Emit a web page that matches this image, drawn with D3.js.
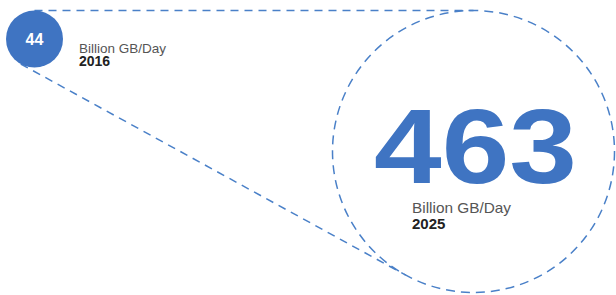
<!DOCTYPE html>
<html><head><meta charset="utf-8">
<script src="https://cdn.jsdelivr.net/npm/d3@7"></script>
<style>html,body{margin:0;padding:0;background:#fff;}svg{display:block;}</style>
</head><body>
<script>
const years = ["2016", "2025"];
const values = [44, 463];
const unitLabels = ["Billion GB/Day", "Billion GB/Day"];

const W = 616, H = 295;
const svg = d3.select("body").append("svg").attr("width", W).attr("height", H);

const rScale = d3.scaleLinear().domain([44, 463]).range([28.5, 141]);
const xScale = d3.scaleLinear().domain([44, 463]).range([34.5, 473.5]);
const yScale = d3.scaleLinear().domain([44, 463]).range([39, 151.5]);

const c = values.map(v => ({x: xScale(v), y: yScale(v), r: rScale(v)}));
const blue = "#3f74c2";
const dash = "#4a80c8";

// external tangent lines
const dx = c[1].x - c[0].x, dy = c[1].y - c[0].y;
const d = Math.hypot(dx, dy);
const phi = Math.atan2(dy, dx);
const beta = Math.acos(-(c[1].r - c[0].r) / d);
[phi + beta, phi - beta].forEach(a => {
  const n = [Math.cos(a), Math.sin(a)];
  svg.append("line")
    .attr("x1", c[0].x + c[0].r * n[0]).attr("y1", c[0].y + c[0].r * n[1])
    .attr("x2", c[1].x + c[1].r * n[0]).attr("y2", c[1].y + c[1].r * n[1])
    .attr("stroke", dash).attr("stroke-width", 1.5).attr("stroke-dasharray", "8,6");
});

// big dashed circle
svg.append("circle").attr("cx", c[1].x).attr("cy", c[1].y).attr("r", c[1].r)
  .attr("fill", "none").attr("stroke", dash).attr("stroke-width", 1.5).attr("stroke-dasharray", "9,6");

// small filled circle
svg.append("circle").attr("cx", c[0].x).attr("cy", c[0].y).attr("r", c[0].r).attr("fill", blue);
svg.append("text").attr("x", c[0].x).attr("y", c[0].y + 6).attr("text-anchor", "middle")
  .attr("font-family", "Liberation Sans, Arial, sans-serif").attr("font-weight", "bold")
  .attr("font-size", 16).attr("fill", "#fff").text(values[0]);

svg.append("text").attr("x", 79).attr("y", 52.5)
  .attr("font-family", "Liberation Sans, Arial, sans-serif").attr("font-size", 13.5)
  .attr("fill", "#555").text(unitLabels[0]);
svg.append("text").attr("x", 79).attr("y", 66)
  .attr("font-family", "Liberation Sans, Arial, sans-serif").attr("font-weight", "bold").attr("font-size", 14)
  .attr("fill", "#222").text(years[0]);

// big number
svg.append("text").attr("x", 374).attr("y", 183)
  .attr("font-family", "Liberation Sans, Arial, sans-serif").attr("font-weight", "bold")
  .attr("font-size", 105).attr("fill", blue)
  .attr("textLength", 203).attr("lengthAdjust", "spacingAndGlyphs").text(values[1]);

svg.append("text").attr("x", 412).attr("y", 212.5)
  .attr("font-family", "Liberation Sans, Arial, sans-serif").attr("font-size", 15)
  .attr("fill", "#555").attr("textLength", 99).attr("lengthAdjust", "spacingAndGlyphs").text(unitLabels[1]);
svg.append("text").attr("x", 412).attr("y", 229)
  .attr("font-family", "Liberation Sans, Arial, sans-serif").attr("font-weight", "bold").attr("font-size", 15)
  .attr("fill", "#222").text(years[1]);
</script>
</body></html>
